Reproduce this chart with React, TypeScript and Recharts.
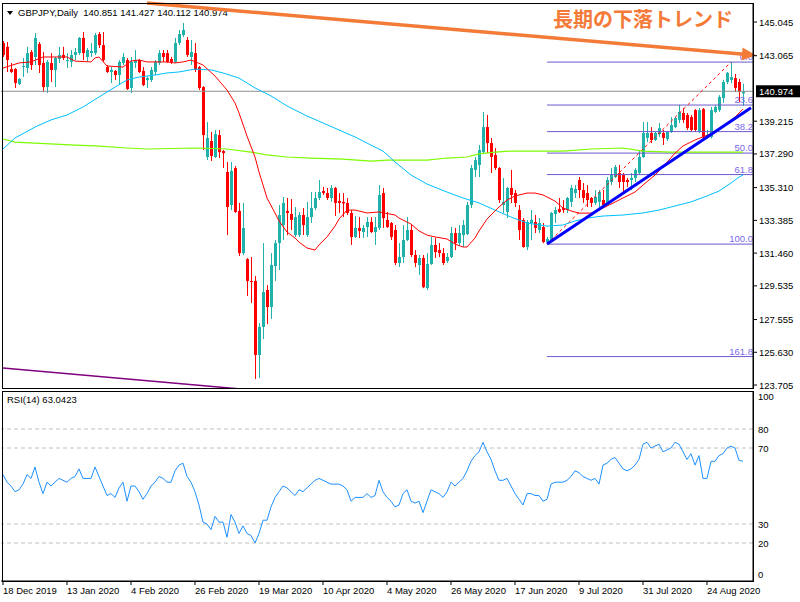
import React from 'react';
import { ComposedChart, Bar, Line, XAxis, YAxis, ReferenceLine } from 'recharts';

// ---------- data ----------
// daily candles [open, high, low, close], 18 Dec 2019 ... 4 Sep 2020
const candles: [number, number, number, number][] = [
  [143.81,143.93,142.99,143.11],[143.59,143.87,142.11,142.81],[142.28,142.64,142.05,142.11],[142.28,142.34,141.17,141.46],
  [141.40,141.75,141.34,141.70],[142.40,142.93,141.81,142.46],[142.34,143.59,142.05,143.22],[143.28,143.40,142.23,142.52],
  [142.99,144.40,142.52,144.11],[143.75,143.87,142.05,142.52],[142.64,143.28,140.93,141.22],[141.22,142.81,140.87,142.70],
  [142.64,143.22,141.52,142.23],[142.23,142.99,141.22,142.93],[142.87,143.59,142.64,143.11],[143.11,143.59,142.81,142.93],
  [142.75,143.22,142.34,142.81],[142.70,143.40,142.40,143.11],[143.11,143.52,142.81,143.28],[143.22,144.16,143.11,144.11],
  [144.11,144.46,142.81,143.22],[142.99,143.52,142.70,143.40],[143.22,143.81,142.99,143.34],[143.22,144.40,143.11,144.28],
  [144.34,144.46,143.52,143.69],[143.69,144.46,142.70,142.81],[142.40,142.52,142.05,142.11],[142.11,142.40,141.46,142.23],
  [142.17,142.23,141.64,141.93],[141.93,142.81,141.34,142.70],[142.64,143.22,142.52,142.99],[142.81,142.93,141.05,141.11],
  [141.17,142.99,140.87,142.70],[142.64,143.40,142.34,142.81],[142.81,142.87,142.05,142.11],[142.17,142.40,141.28,141.34],
  [141.64,141.87,141.17,141.75],[141.64,142.40,141.52,142.23],[142.11,142.81,141.93,142.70],[142.64,143.40,142.52,143.22],
  [143.22,143.40,142.70,142.99],[143.22,143.40,142.64,142.70],[142.87,142.99,142.58,142.70],[142.70,144.11,142.64,143.81],
  [143.81,144.58,143.69,144.34],[144.28,144.99,144.16,144.58],[143.99,144.16,142.99,143.11],[142.99,143.99,142.52,143.28],
  [143.22,143.81,142.11,142.23],[142.40,142.46,141.05,141.17],[141.22,141.28,137.52,138.40],[137.11,139.17,136.93,138.23],
  [138.05,138.58,136.87,137.17],[137.11,138.70,137.05,138.46],[138.40,138.70,137.05,137.40],[137.46,137.52,136.46,137.34],
  [136.23,136.82,132.52,134.17],[134.29,136.82,133.99,136.29],[136.46,136.58,133.82,133.88],[133.94,134.41,131.29,131.46],
  [131.46,134.41,131.35,132.94],[131.11,131.17,128.94,129.82],[129.82,131.23,128.53,129.76],[129.82,130.11,124.06,125.47],
  [125.47,127.35,124.12,127.12],[127.12,132.05,126.41,129.17],[129.29,129.58,127.29,128.29],[128.29,131.46,127.59,130.76],
  [130.70,132.23,129.82,132.05],[132.05,134.29,130.47,133.70],[133.11,134.76,132.23,134.41],[133.94,134.70,132.52,133.82],
  [133.76,134.64,132.82,133.41],[132.52,134.17,132.41,133.58],[132.52,133.88,132.41,133.70],[133.70,134.11,132.52,133.11],
  [132.52,134.47,132.41,133.58],[133.58,135.05,133.23,134.11],[134.11,135.05,133.99,134.70],[134.70,135.76,134.58,135.05],
  [135.11,135.35,134.88,134.99],[134.99,135.29,134.58,134.70],[134.70,135.46,134.47,135.29],[135.29,135.35,133.64,134.41],
  [134.53,134.99,133.82,134.41],[134.47,134.99,133.58,134.38],[134.41,134.70,133.70,133.82],[133.82,133.99,131.94,132.41],
  [132.41,133.64,132.35,132.94],[132.94,133.58,132.35,132.76],[132.70,133.11,132.35,132.94],[132.99,133.58,132.41,133.29],
  [133.29,133.58,132.64,132.70],[132.70,133.58,131.94,132.99],[132.94,135.46,132.82,134.88],[134.99,135.29,132.94,133.52],
  [133.41,133.88,132.94,132.99],[133.23,133.29,132.23,132.41],[132.82,133.11,130.76,130.88],[130.88,132.05,130.64,131.23],
  [131.23,133.11,130.88,132.23],[132.23,133.58,132.17,132.82],[132.82,133.11,131.23,131.35],[131.35,131.64,130.64,130.88],
  [130.76,131.35,130.17,131.17],[131.17,131.35,129.40,129.46],[129.41,131.46,129.29,130.82],[130.82,132.41,130.76,131.94],
  [131.94,132.35,131.17,131.52],[131.64,132.05,131.23,131.46],[131.46,131.76,130.76,130.88],[131.00,131.46,130.88,131.23],
  [131.23,133.00,131.17,132.64],[132.64,132.94,131.64,132.05],[132.05,133.11,131.94,132.64],[132.52,133.41,131.82,133.11],
  [132.58,134.47,132.52,134.29],[134.29,136.64,134.11,136.46],[136.35,137.11,135.93,136.93],[136.64,137.82,135.93,137.52],
  [137.40,139.76,137.34,138.87],[138.87,139.58,137.34,137.93],[137.93,138.23,136.17,137.11],[137.23,137.64,136.35,136.46],
  [136.46,136.52,134.41,134.58],[134.29,135.88,133.82,134.47],[133.88,135.35,133.52,135.29],[135.29,136.35,134.41,134.88],
  [134.99,135.17,134.17,134.41],[133.99,134.29,132.23,132.82],[133.41,133.52,131.78,131.82],[131.82,133.41,131.64,133.29],
  [133.23,133.99,132.23,133.41],[133.29,133.70,132.64,132.94],[132.82,133.52,132.64,133.23],[132.99,133.23,132.05,132.11],
  [132.11,132.41,131.99,132.29],[132.23,133.88,132.11,133.82],[133.76,134.17,133.23,133.99],[134.05,134.70,133.82,133.88],
  [134.11,134.58,133.82,133.99],[133.99,134.76,133.82,134.70],[134.47,135.46,134.17,135.29],[134.99,135.46,134.70,135.23],
  [135.76,135.93,134.70,135.17],[135.17,135.58,134.41,134.70],[134.99,135.46,134.17,134.58],[134.70,134.76,134.17,134.41],
  [134.41,135.17,134.29,134.76],[134.47,135.17,134.17,135.05],[134.58,135.17,134.17,134.29],[134.29,135.93,134.25,135.76],
  [135.64,136.46,135.46,136.05],[135.93,136.64,135.88,136.52],[136.17,136.64,135.29,135.64],[136.05,136.17,134.99,135.64],
  [135.76,135.88,135.35,135.64],[135.76,136.17,135.17,135.88],[135.88,136.46,135.64,136.35],[136.17,137.52,136.05,137.11],
  [137.11,139.17,137.05,138.52],[138.23,139.17,137.99,138.52],[138.52,138.87,137.93,138.11],[138.11,138.58,138.05,138.52],
  [138.46,139.11,138.29,138.81],[138.52,138.70,137.82,138.23],[138.17,138.64,138.05,138.58],[138.58,139.46,138.52,138.99],
  [138.87,139.46,138.81,139.40],[139.29,140.17,139.11,139.76],[139.70,139.99,139.11,139.29],[139.58,139.70,138.70,138.81],
  [139.46,139.58,138.58,138.70],[139.87,139.93,138.58,138.70],[138.58,139.99,138.52,139.87],[139.93,139.99,138.23,138.29],
  [138.29,138.70,138.20,138.40],[138.29,140.05,138.20,139.87],[139.76,140.17,139.70,140.05],[139.87,140.75,139.76,140.64],
  [140.58,141.64,140.29,141.52],[141.52,142.11,141.40,142.05],[141.64,142.69,141.45,141.81],[141.75,141.99,140.93,141.17],
  [141.52,141.70,140.34,140.93],[140.851,141.427,140.112,140.974],
];

const rsi14: number[] = [
  56,52,50,47,48,51,56,54,60,52,46,52,50,52,54,53,52,54,55,59,
  54,54,54,60,55,50,45,46,44,49,52,42,50,50,47,43,46,50,52,55,
  54,52,52,58,61,62,55,52,47,40,31,30,27,34,31,31,23,35,31,25,
  29,25,24,20,25,32,32,39,44,47,50,49,47,45,48,47,49,51,53,54,
  53,52,51,51,51,50,48,42,44,44,44,46,44,45,53,47,44,42,39,40,
  46,48,42,41,42,36,42,48,47,46,44,47,52,50,52,54,58,63,66,68,
  73,68,64,58,53,53,54,50,46,43,40,46,46,45,45,42,43,51,52,52,
  52,53,55,58,57,55,54,53,54,51,61,62,64,65,62,59,58,59,61,64,
  72,73,70,71,72,68,69,70,73,72,68,64,67,61,66,54,54,63,63,66,
  67,70,71,70,63.5,63.0423,
];

// moving averages: [bar index, value]
const maRed: [number, number][] = [
  [0,142.34],[4,142.64],[7,142.70],[10,142.99],[16,142.99],[18,142.75],[22,142.70],[23,142.93],[24,142.99],[26,142.46],
  [30,142.40],[32,142.75],[34,142.81],[36,142.70],[41,142.70],[43,142.64],[45,142.70],[47,142.81],[50,142.52],[53,141.87],
  [56,141.05],[58,140.29],[59,139.70],[61,138.34],[63,137.11],[64,136.23],[66,134.70],[68,133.82],[69,133.35],[71,132.70],
  [73,132.35],[74,132.11],[76,131.76],[78,131.64],[79,131.94],[81,132.41],[83,133.05],[84,133.46],[86,133.99],[88,133.99],
  [91,133.82],[94,133.88],[98,133.70],[99,133.52],[102,133.17],[104,132.76],[106,132.52],[108,132.41],[111,132.29],[113,131.99],
  [115,131.82],[116,131.82],[118,132.35],[119,132.76],[121,133.46],[123,133.94],[124,134.17],[126,134.58],[128,134.82],[131,134.99],
  [133,134.99],[135,134.88],[137,134.64],[138,134.52],[140,134.11],[142,133.94],[144,133.81],[147,133.81],[149,133.99],[150,134.11],
  [153,134.46],[155,134.70],[158,135.05],[160,135.46],[163,136.05],[165,136.52],[168,137.34],[170,137.76],[173,138.11],[175,138.29],
  [178,138.58],[180,138.93],[183,139.46],[185,139.93],
];
const maBlue: [number, number][] = [
  [0,137.58],[3,138.23],[8,138.87],[12,139.29],[16,139.58],[20,140.05],[24,140.64],[28,141.22],[31,141.64],[34,141.81],
  [38,141.93],[41,142.05],[44,142.11],[48,142.28],[52,142.23],[55,142.05],[59,141.75],[63,141.17],[67,140.70],[71,140.11],
  [76,139.52],[80,139.11],[84,138.70],[88,138.29],[92,137.81],[95,137.46],[98,136.82],[102,136.05],[106,135.52],[111,135.05],
  [115,134.70],[119,134.41],[123,133.99],[127,133.58],[131,133.23],[136,133.05],[140,133.11],[143,133.35],[146,133.52],[150,133.64],
  [155,133.70],[160,133.82],[164,133.99],[168,134.23],[172,134.47],[176,134.82],[179,135.11],[182,135.58],[184,135.93],[185,136.05],
];
const maGreen: [number, number][] = [
  [0,138.17],[3,137.99],[8,137.93],[13,137.87],[18,137.81],[23,137.76],[31,137.64],[36,137.58],[48,137.64],[56,137.58],
  [62,137.40],[66,137.23],[71,137.11],[77,137.05],[85,136.99],[92,136.87],[96,136.93],[106,136.93],[111,137.05],[116,137.11],
  [119,137.29],[123,137.40],[127,137.46],[140,137.46],[147,137.58],[155,137.64],[160,137.46],[167,137.40],[185,137.40],
];

const priceTicks = [123.705, 125.63, 127.555, 129.535, 131.46, 133.385, 135.31, 137.29, 139.215, 143.065, 145.045];
const rsiTicks = [0, 20, 30, 70, 80, 100];
const rsiLevels = [80, 70, 30, 20];
const dateLabels = ['18 Dec 2019','13 Jan 2020','4 Feb 2020','26 Feb 2020','19 Mar 2020','10 Apr 2020','4 May 2020','26 May 2020','17 Jun 2020','9 Jul 2020','31 Jul 2020','24 Aug 2020'];
const dateTickBars = [0, 16, 32, 48, 64, 80, 96, 112, 128, 144, 160, 176];
const lastQuote = [140.851, 141.427, 140.112, 140.974];

// drawing objects
const fibLow = { bar: 136, price: 131.99 };
const fibHigh = { bar: 182, price: 142.69 };
const fibLevels = [0, 23.6, 38.2, 50.0, 61.8, 100.0, 161.8];
const upTrend = [{ x: 136, y: 131.99 }, { x: 187, y: 140.0 }];
const longDownArrow = [{ x: 36, y: 146.16 }, { x: 187, y: 143.12 }];
const purpleTrend = [{ x: 0, y: 124.70 }, { x: 60, y: 123.46 }];

const SLOTS = 188;

// ---------- build chart table ----------
const data: any[] = Array.from({ length: SLOTS }, (_, i) => {
  const c = candles[i];
  return c
    ? { i, o: c[0], h: c[1], l: c[2], c: c[3], range: [c[2], c[1]], rsi: rsi14[i] }
    : { i };
});
maRed.forEach(([i, v]) => { data[i].red = v; });
maBlue.forEach(([i, v]) => { data[i].blue = v; });
maGreen.forEach(([i, v]) => { data[i].green = v; });

const FONT = '"Liberation Sans", Arial, sans-serif';
const ORANGE = '#F47A38';
const UP = '#20B2AA';
const DOWN = '#FF0000';

const Candle = (props: any) => {
  const { x, y, width, height, payload } = props;
  if (!payload || payload.o == null || !isFinite(y)) return null;
  const { o, h, l, c } = payload;
  const cx = Math.round(x + width / 2);
  const k = h - l > 0 ? height / (h - l) : 0;
  const yo = y + (h - o) * k;
  const yc = y + (h - c) * k;
  const col = c >= o ? UP : DOWN;
  const top = Math.min(yo, yc);
  const bh = Math.max(1, Math.abs(yo - yc));
  return (
    <g>
      <rect x={cx} y={y} width={1} height={Math.max(1, height)} fill={col} />
      <rect x={cx - 1} y={top} width={3} height={bh} fill={col} />
    </g>
  );
};

const PriceTick = (props: any) => {
  const { x, y, payload } = props;
  return (
    <text x={x} y={y} dy={3.5} textAnchor="start" fontSize={9.5} fontFamily={FONT} fill="#000">
      {Number(payload.value).toFixed(3)}
    </text>
  );
};

const RsiTick = (props: any) => {
  const { x, y, payload } = props;
  const v = payload.value;
  const dy = v === 100 ? 9 : v === 0 ? -3.5 : 3.5;
  return (
    <text x={x} y={y} dy={dy} textAnchor="start" fontSize={9.5} fontFamily={FONT} fill="#000">
      {v}
    </text>
  );
};

const DateTick = (props: any) => {
  const { x, y, payload } = props;
  const idx = dateTickBars.indexOf(payload.value);
  return (
    <text x={x} y={y} dy={6.5} textAnchor="start" fontSize={9.5} fontFamily={FONT} fill="#000">
      {idx >= 0 ? dateLabels[idx] : ''}
    </text>
  );
};

const makeFibShape = (label: string) => (p: any) => {
  const xr = Math.max(p.x1, p.x2);
  const xl = Math.min(p.x1, p.x2);
  return (
    <g>
      <line x1={xl} y1={p.y1} x2={xr + 2} y2={p.y2} stroke="#6A5ACD" strokeWidth={1} />
      <text x={xr + 2} y={p.y1 - 2} textAnchor="end" fontSize={9.5} fontFamily={FONT} fill="#7B68EE">
        {label}
      </text>
    </g>
  );
};

const ArrowShape = (p: any) => {
  const { x1, y1, x2, y2 } = p;
  const dx = x2 - x1, dy = y2 - y1;
  const len = Math.hypot(dx, dy) || 1;
  const ux = dx / len, uy = dy / len;
  const tx = x2 + ux * 5, ty = y2 + uy * 5;
  const bx = tx - ux * 14, by = ty - uy * 14;
  const px = -uy, py = ux;
  return (
    <g>
      <line x1={x1} y1={y1} x2={bx + ux * 2} y2={by + uy * 2} stroke={ORANGE} strokeWidth={3.5} />
      <polygon points={`${tx},${ty} ${bx + px * 6.5},${by + py * 6.5} ${bx - px * 6.5},${by - py * 6.5}`} fill={ORANGE} />
    </g>
  );
};

const PriceLineShape = (p: any) => {
  const xr = Math.max(p.x1, p.x2);
  const xl = Math.min(p.x1, p.x2);
  return (
    <g>
      <line x1={xl} y1={p.y1} x2={xr} y2={p.y2} stroke="#8A9292" strokeWidth={1} />
      <rect x={xr + 3} y={p.y1 - 6} width={47} height={12} fill="#000" />
      <text x={xr + 6} y={p.y1 + 3.5} fontSize={9.5} fontFamily={FONT} fill="#fff">
        {lastQuote[3].toFixed(3)}
      </text>
    </g>
  );
};

export default function App() {
  const fibRange = fibHigh.price - fibLow.price;
  return (
    <div style={{ position: 'absolute', left: 0, top: 0, width: 800, height: 602, background: '#fff', overflow: 'hidden', fontFamily: FONT }}>
      {/* title (behind the chart so the arrow passes over it) */}
      <div style={{ position: 'absolute', left: 7, top: 11, width: 0, height: 0, borderLeft: '3px solid transparent', borderRight: '3px solid transparent', borderTop: '4px solid #000' }} />
      <div style={{ position: 'absolute', left: 18, top: 7, fontSize: 9.5, lineHeight: '12px', whiteSpace: 'pre', color: '#000' }}>
        {`GBPJPY,Daily  ${lastQuote.map((v) => v.toFixed(3)).join(' ')}`}
      </div>

      <div style={{ position: 'absolute', left: 0, top: 0 }}>
        <ComposedChart width={800} height={390} data={data} margin={{ top: 3, right: 0, bottom: 2, left: 1 }}>
          <XAxis dataKey="i" type="category" scale="band" hide />
          <YAxis
            orientation="right"
            width={47}
            domain={[123.53, 146.164]}
            allowDataOverflow
            ticks={priceTicks}
            interval={0}
            tick={<PriceTick />}
            tickSize={4}
            tickMargin={2}
            tickLine={{ stroke: '#000' }}
            axisLine={{ stroke: '#000' }}
          />
          <ReferenceLine y={lastQuote[3]} ifOverflow="visible" shape={PriceLineShape} />
          {fibLevels.map((lv) => {
            const price = fibHigh.price - (fibRange * lv) / 100;
            return (
              <ReferenceLine
                key={lv}
                segment={[{ x: fibLow.bar, y: price }, { x: 187, y: price }]}
                ifOverflow="visible"
                shape={makeFibShape(lv.toFixed(1))}
              />
            );
          })}
          <ReferenceLine
            segment={[{ x: fibLow.bar, y: fibLow.price }, { x: fibHigh.bar, y: fibHigh.price }]}
            stroke="#FF0000"
            strokeDasharray="3 3"
            strokeWidth={1}
            ifOverflow="visible"
          />
          <ReferenceLine segment={purpleTrend} stroke="#800080" strokeWidth={1.5} ifOverflow="hidden" />
          <Bar dataKey="range" shape={<Candle />} isAnimationActive={false} />
          <Line dataKey="green" stroke="#7CFC00" strokeWidth={1.2} dot={false} connectNulls isAnimationActive={false} />
          <Line dataKey="blue" stroke="#00BFFF" strokeWidth={1} dot={false} connectNulls isAnimationActive={false} />
          <Line dataKey="red" stroke="#FF0000" strokeWidth={1} dot={false} connectNulls isAnimationActive={false} />
          <ReferenceLine segment={upTrend} stroke="#0000FF" strokeWidth={3} ifOverflow="visible" />
          <ReferenceLine segment={longDownArrow} ifOverflow="visible" shape={ArrowShape} />
        </ComposedChart>
      </div>

      <div style={{ position: 'absolute', left: 0, top: 390 }}>
        <ComposedChart width={800} height={212} data={data} margin={{ top: 1, right: 0, bottom: 0, left: 1 }}>
          <XAxis
            dataKey="i"
            type="category"
            scale="band"
            ticks={dateTickBars}
            interval={0}
            height={21}
            tickSize={4}
            tickMargin={2}
            tick={<DateTick />}
            tickLine={{ stroke: '#000' }}
            axisLine={{ stroke: '#000' }}
          />
          <YAxis
            orientation="right"
            width={47}
            domain={[0, 100]}
            ticks={rsiTicks}
            interval={0}
            tickSize={4}
            tickMargin={1}
            tick={<RsiTick />}
            tickLine={{ stroke: 'transparent' }}
            axisLine={{ stroke: '#000' }}
          />
          {rsiLevels.map((v) => (
            <ReferenceLine key={v} y={v} stroke="#C0C0C0" strokeDasharray="4 3" ifOverflow="visible" />
          ))}
          <Line dataKey="rsi" stroke="#1E90FF" strokeWidth={1} dot={false} isAnimationActive={false} />
        </ComposedChart>
      </div>

      {/* panel frames */}
      <div style={{ position: 'absolute', left: 2, top: 3, width: 752, height: 386, border: '1px solid #000', boxSizing: 'border-box', pointerEvents: 'none' }} />
      <div style={{ position: 'absolute', left: 2, top: 391, width: 752, height: 191, border: '1px solid #000', boxSizing: 'border-box', pointerEvents: 'none' }} />

      {/* annotation text */}
      <div style={{ position: 'absolute', left: 553, top: 7, fontSize: 20, lineHeight: '24px', fontWeight: 700, color: ORANGE, fontFamily: '"Noto Sans CJK JP", sans-serif', whiteSpace: 'nowrap' }}>
        長期の下落トレンド
      </div>
      <div style={{ position: 'absolute', left: 7, top: 394, fontSize: 9.5, lineHeight: '12px', color: '#000', whiteSpace: 'pre' }}>
        {`RSI(14) ${rsi14[rsi14.length - 1].toFixed(4)}`}
      </div>
    </div>
  );
}
